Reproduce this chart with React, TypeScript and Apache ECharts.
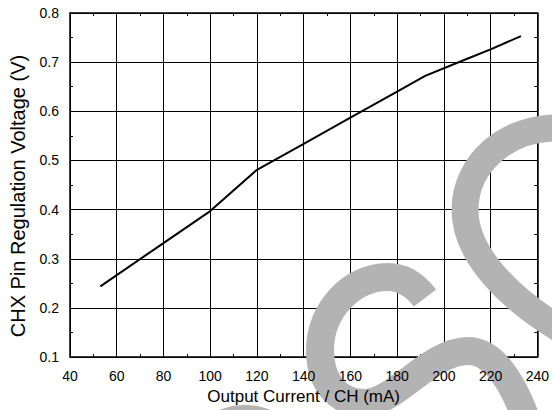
import React, { useEffect, useRef } from "react";
import * as echarts from "echarts";

// ---- data ----
const currentMA = [53, 80, 100, 120, 140, 160, 180, 192, 210, 220, 233];
const voltageV = [0.244, 0.332, 0.397, 0.481, 0.534, 0.587, 0.64, 0.672, 0.707, 0.726, 0.753];
const xTicks = { min: 40, max: 240, interval: 20 };
const yTicks = { min: 0.1, max: 0.8, interval: 0.1 };
const xTitle = "Output Current / CH (mA)";
const yTitle = "CHX Pin Regulation Voltage (V)";

// decorative watermark strokes
const WM_UPPER = "M565,128 C505,125 465,165 465,210 C465,255 510,300 565,332";
const WM_LOWER =
  "M425,298 C415,285 403,277 388,277 C352,277 320,310 320,350 C320,385 340,403 365,403 C395,403 430,351 468,351 C495,351 515,385 530,430";
echarts.graphic.registerShape("wmUpper", echarts.graphic.extendPath(WM_UPPER, {}));
echarts.graphic.registerShape("wmLower", echarts.graphic.extendPath(WM_LOWER, {}));

const FONT = "'Liberation Sans', Arial, sans-serif";
const GRAY = "#b3b3b3";

export default function App() {
  const ref = useRef<HTMLDivElement>(null);
  useEffect(() => {
    if (!ref.current) return;
    const chart = echarts.init(ref.current, null, { renderer: "svg" });
    const baseX = { type: "value", min: xTicks.min, max: xTicks.max, interval: xTicks.interval };
    const baseY = { type: "value", min: yTicks.min, max: yTicks.max, interval: yTicks.interval };
    const frameAxis = (pos: string, split: boolean) => ({
      position: pos,
      axisLine: { show: true, onZero: false, lineStyle: { color: "#000", width: 1.5 } },
      axisTick: { show: true, inside: true, length: 0 },
      minorTick: { show: true, splitNumber: 2, length: 3, lineStyle: { color: "#000", width: 1 } },
      axisLabel: { show: false },
      splitLine: { show: split, lineStyle: { color: "#000", width: 1 } },
      z: 0,
    });
    chart.setOption({
      animation: false,
      textStyle: { fontFamily: FONT },
      grid: { left: 68, top: 13, right: 11, bottom: 51 },
      xAxis: [
        { ...baseX, ...frameAxis("bottom", true) },
        {
          ...baseX,
          position: "bottom",
          axisLine: { show: false },
          axisTick: { show: false },
          splitLine: { show: false },
          axisLabel: { color: "#000", fontSize: 14, margin: 12, fontFamily: FONT },
          name: xTitle,
          nameLocation: "middle",
          nameGap: 26,
          nameTextStyle: { color: "#000", fontSize: 17, fontFamily: FONT },
          z: 10,
        },
        { ...baseX, ...frameAxis("top", false) },
      ],
      yAxis: [
        { ...baseY, ...frameAxis("left", true) },
        {
          ...baseY,
          position: "left",
          axisLine: { show: false },
          axisTick: { show: false },
          splitLine: { show: false },
          axisLabel: {
            color: "#000",
            fontSize: 14,
            margin: 11,
            fontFamily: FONT,
            formatter: (v: number) => v.toFixed(1),
          },
          name: yTitle,
          nameLocation: "middle",
          nameGap: 42,
          nameTextStyle: { color: "#000", fontSize: 20, fontFamily: FONT, padding: [0, 22, 0, 0] },
          z: 10,
        },
        { ...baseY, ...frameAxis("right", false) },
      ],
      series: [
        {
          type: "line",
          xAxisIndex: 0,
          yAxisIndex: 0,
          data: currentMA.map((x, i) => [x, voltageV[i]]),
          showSymbol: false,
          lineStyle: { color: "#000", width: 2 },
          z: 2,
        },
      ],
      graphic: [
        {
          type: "wmUpper",
          x: 0,
          y: 0,
          z: 5,
          silent: true,
          style: { fill: "none", stroke: GRAY, lineWidth: 27, lineCap: "butt" },
        },
        {
          type: "wmLower",
          x: 0,
          y: 0,
          z: 5,
          silent: true,
          style: { fill: "none", stroke: GRAY, lineWidth: 28, lineCap: "butt" },
        },
        {
          type: "circle",
          z: 5,
          silent: true,
          shape: { cx: 245, cy: 475, r: 70 },
          style: { fill: GRAY },
        },
      ],
    });
    return () => chart.dispose();
  }, []);
  return (
    <div
      ref={ref}
      style={{ position: "fixed", left: 0, top: 0, width: 552, height: 410, background: "#fff" }}
    />
  );
}
